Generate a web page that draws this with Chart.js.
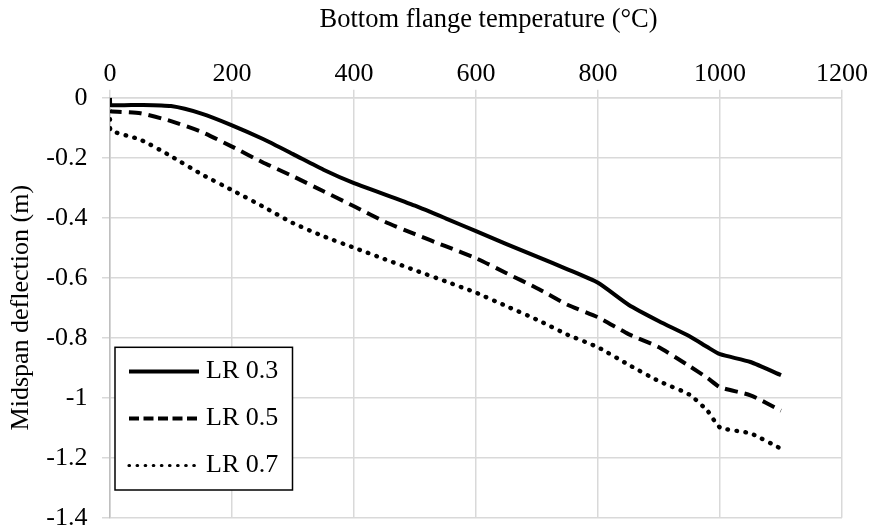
<!DOCTYPE html>
<html>
<head>
<meta charset="utf-8">
<script src="https://cdn.jsdelivr.net/npm/chart.js@4/dist/chart.umd.min.js"></script>
<style>
  html, body { margin: 0; padding: 0; background: #fff; }
  #wrap { width: 872px; height: 529px; }
</style>
</head>
<body>
<div id="wrap"><canvas id="c" width="872" height="529"></canvas></div>
<script>
// ---- data ----
const temps = [0, 0.5, 50, 100, 150, 200, 250, 300, 350, 400, 450, 500, 550, 600, 650, 700, 750, 800, 850, 900, 950, 980, 1000, 1050, 1100];
const lr03 = [0, -0.024, -0.024, -0.028, -0.053, -0.092, -0.137, -0.188, -0.240, -0.285, -0.322, -0.360, -0.402, -0.445, -0.488, -0.530, -0.572, -0.617, -0.690, -0.745, -0.795, -0.832, -0.855, -0.881, -0.925];
const lr05 = [-0.040, -0.045, -0.052, -0.078, -0.114, -0.163, -0.215, -0.262, -0.312, -0.362, -0.413, -0.455, -0.495, -0.535, -0.585, -0.635, -0.690, -0.732, -0.788, -0.832, -0.895, -0.935, -0.965, -0.992, -1.043];
const lr07 = [-0.072, -0.108, -0.140, -0.195, -0.255, -0.308, -0.362, -0.418, -0.462, -0.500, -0.538, -0.575, -0.612, -0.650, -0.695, -0.740, -0.790, -0.832, -0.890, -0.945, -0.990, -1.045, -1.099, -1.119, -1.170];
const seriesLabels = ['LR 0.3', 'LR 0.5', 'LR 0.7'];
const xTicks = [0, 200, 400, 600, 800, 1000, 1200];
const yTicks = [0, -0.2, -0.4, -0.6, -0.8, -1, -1.2, -1.4];
const xTitle = 'Bottom flange temperature (°C)';
const yTitle = 'Midspan deflection (m)';

const FONT = "'Liberation Serif', 'Times New Roman', serif";
const toPts = (ys) => temps.map((t, i) => ({ x: t, y: ys[i] }));

const styles = [
  { dash: [], cap: 'butt', width: 4, legendDash: [], legendWidth: 3.8 },
  { dash: [13, 7], cap: 'butt', width: 4, legendDash: [10, 4.5], legendWidth: 3.8 },
  { dash: [0.5, 8.5], cap: 'round', width: 4.4, legendDash: [0.5, 7.6], legendWidth: 3.2 }
];

const datasets = [lr03, lr05, lr07].map((ys, i) => ({
  label: seriesLabels[i],
  data: toPts(ys),
  borderColor: '#000',
  borderWidth: styles[i].width,
  borderDash: styles[i].dash,
  borderCapStyle: styles[i].cap,
  pointRadius: 0,
  tension: 0.2,
  fill: false
}));

const legendPlugin = {
  id: 'boxLegend',
  afterDatasetsDraw(chart) {
    const ctx = chart.ctx;
    const bx = 115, by = 347.3, bw = 177.5, bh = 142.7;
    ctx.save();
    ctx.fillStyle = '#fff';
    ctx.fillRect(bx, by, bw, bh);
    ctx.strokeStyle = '#000';
    ctx.lineWidth = 1.5;
    ctx.setLineDash([]);
    ctx.strokeRect(bx, by, bw, bh);
    ctx.font = "26px " + FONT;
    ctx.textBaseline = 'middle';
    ctx.textAlign = 'left';
    chart.data.datasets.forEach((ds, i) => {
      const y = 371.5 + i * 47;
      ctx.beginPath();
      ctx.strokeStyle = ds.borderColor;
      ctx.lineWidth = styles[i].legendWidth;
      ctx.lineCap = styles[i].cap;
      ctx.setLineDash(styles[i].legendDash);
      ctx.moveTo(129, y);
      ctx.lineTo(199, y);
      ctx.stroke();
      ctx.setLineDash([]);
      ctx.fillStyle = '#000';
      ctx.fillText(ds.label, 206, y);
    });
    ctx.restore();
  }
};

new Chart(document.getElementById('c'), {
  type: 'line',
  data: { datasets },
  plugins: [legendPlugin],
  options: {
    responsive: false,
    animation: false,
    layout: { padding: { left: 0, right: 30, top: 0, bottom: 11.3 } },
    plugins: { legend: { display: false }, tooltip: { enabled: false } },
    scales: {
      x: {
        type: 'linear',
        position: 'top',
        min: 0, max: 1200,
        afterBuildTicks: (s) => { s.ticks = xTicks.map(v => ({ value: v })); },
        afterFit: (s) => { s.height = 97.7; s.paddingLeft = 0; s.paddingRight = 0; },
        ticks: { color: '#000', font: { family: FONT, size: 26 }, padding: 0, maxRotation: 0, autoSkip: false,
          callback: (v) => String(v) },
        grid: { color: '#d9d9d9', lineWidth: 1.5, tickLength: 8, drawTicks: true },
        border: { color: '#d9d9d9', width: 1.5 },
        title: { display: true, text: '   \u2009' + xTitle, color: '#000', font: { family: FONT, size: 26.5 }, padding: { top: 4, bottom: 0 } }
      },
      y: {
        type: 'linear',
        position: 'left',
        min: -1.4, max: 0,
        afterBuildTicks: (s) => { s.ticks = yTicks.map(v => ({ value: v })); },
        afterFit: (s) => { s.width = 110; s.paddingTop = 0; s.paddingBottom = 0; },
        ticks: { color: '#000', font: { family: FONT, size: 26 }, padding: 14.5, autoSkip: false,
          callback: (v) => String(Math.round(v * 10) / 10) },
        grid: { color: '#d9d9d9', lineWidth: 1.5, tickLength: 8, drawTicks: true },
        border: { color: '#bfbfbf', width: 1.5 },
        title: { display: true, text: yTitle, color: '#000', font: { family: FONT, size: 26 }, padding: { top: 6, bottom: 0 } }
      }
    }
  }
});
</script>
</body>
</html>
